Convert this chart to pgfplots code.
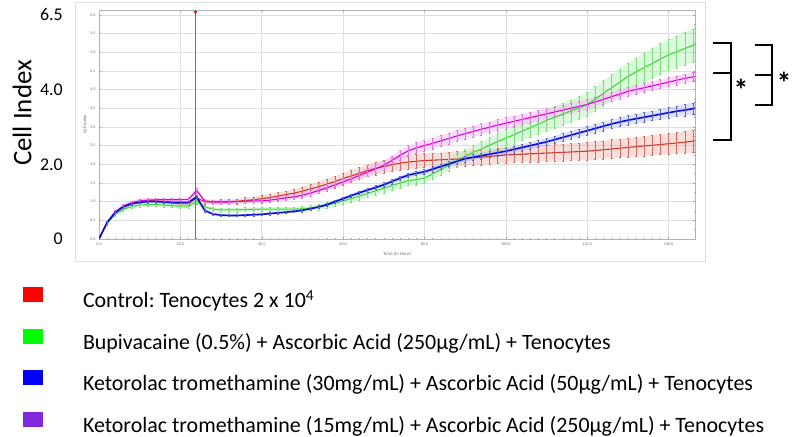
\documentclass[border=0pt]{standalone}
\usepackage{fontspec}
\setmainfont{Carlito}
\usepackage{pgfplots}
\pgfplotsset{compat=1.18}
\usepackage{pgfplotstable}
\usepgfplotslibrary{fillbetween}

\definecolor{cR}{RGB}{205,55,50}
\definecolor{cRe}{RGB}{215,105,95}
\definecolor{cRf}{RGB}{235,160,150}
\definecolor{cG}{RGB}{60,215,60}
\definecolor{cGe}{RGB}{120,225,120}
\definecolor{cGf}{RGB}{170,240,170}
\definecolor{cB}{RGB}{10,10,225}
\definecolor{cBe}{RGB}{90,100,210}
\definecolor{cBf}{RGB}{160,170,235}
\definecolor{cM}{RGB}{220,0,220}
\definecolor{cMe}{RGB}{230,110,230}
\definecolor{cMf}{RGB}{242,170,242}
\definecolor{cV}{RGB}{215,70,70}
\definecolor{lR}{RGB}{255,0,0}
\definecolor{lG}{RGB}{0,255,0}
\definecolor{lB}{RGB}{0,0,255}
\definecolor{lP}{RGB}{130,40,220}

% t: time (h); r/g/b/m: cell index of each group; *e: error
\pgfplotstableread{
t r re g ge b be m me
0 0.00 .02 0.00 .02 0.00 .02 0.00 .02
2 0.45 .04 0.42 .04 0.44 .03 0.45 .04
4 0.72 .05 0.66 .05 0.71 .03 0.72 .05
6 0.88 .05 0.80 .05 0.86 .03 0.88 .05
8 0.96 .06 0.87 .05 0.94 .03 0.97 .05
10 1.01 .06 0.91 .05 0.98 .03 1.02 .05
12 1.03 .06 0.92 .05 1.00 .03 1.04 .05
14 1.02 .06 0.92 .05 1.00 .03 1.05 .05
16 0.99 .06 0.91 .05 0.99 .03 1.05 .05
18 0.96 .06 0.89 .05 0.98 .03 1.05 .05
20 0.94 .06 0.88 .05 0.98 .03 1.05 .05
22 0.94 .06 0.88 .05 0.98 .03 1.06 .05
24 1.10 .07 1.00 .06 1.13 .04 1.30 .06
26 1.00 .06 0.86 .05 0.76 .03 1.02 .05
28 0.99 .06 0.80 .05 0.67 .03 0.99 .05
30 1.00 .06 0.78 .05 0.64 .03 0.99 .05
32 1.00 .07 0.78 .05 0.63 .03 0.99 .05
34 1.01 .07 0.78 .05 0.63 .03 1.00 .05
36 1.03 .08 0.79 .05 0.64 .03 1.01 .05
38 1.05 .08 0.79 .05 0.65 .03 1.02 .05
40 1.08 .09 0.80 .05 0.66 .03 1.02 .05
42 1.11 .09 0.80 .06 0.68 .03 1.04 .06
44 1.15 .10 0.80 .06 0.70 .03 1.07 .06
46 1.19 .10 0.80 .06 0.72 .03 1.10 .06
48 1.23 .11 0.80 .06 0.74 .03 1.13 .07
50 1.28 .12 0.81 .07 0.77 .04 1.17 .07
52 1.34 .12 0.83 .07 0.81 .04 1.23 .08
54 1.40 .13 0.86 .08 0.86 .04 1.30 .08
56 1.47 .14 0.90 .08 0.92 .04 1.37 .09
58 1.54 .14 0.96 .09 1.00 .04 1.45 .09
60 1.62 .15 1.02 .09 1.08 .05 1.53 .10
62 1.69 .15 1.08 .10 1.16 .05 1.61 .10
64 1.76 .16 1.15 .10 1.24 .05 1.70 .11
66 1.83 .16 1.22 .11 1.31 .05 1.79 .11
68 1.89 .17 1.29 .11 1.38 .05 1.88 .12
70 1.94 .17 1.36 .12 1.45 .06 1.97 .12
72 1.99 .18 1.43 .12 1.54 .06 2.10 .13
74 2.03 .18 1.50 .13 1.63 .06 2.24 .13
76 2.06 .18 1.56 .13 1.71 .06 2.36 .14
78 2.08 .19 1.59 .14 1.76 .06 2.44 .14
80 2.10 .19 1.63 .14 1.80 .07 2.50 .15
82 2.11 .19 1.74 .15 1.87 .07 2.56 .15
84 2.12 .19 1.86 .15 1.94 .07 2.63 .15
86 2.13 .20 1.98 .16 2.01 .07 2.69 .15
88 2.14 .20 2.10 .17 2.08 .07 2.76 .15
90 2.16 .20 2.22 .18 2.15 .08 2.82 .15
92 2.18 .20 2.32 .19 2.19 .08 2.88 .15
94 2.19 .20 2.41 .20 2.23 .08 2.94 .15
96 2.21 .20 2.51 .21 2.27 .08 2.99 .15
98 2.23 .21 2.61 .22 2.31 .09 3.05 .15
100 2.25 .21 2.70 .23 2.35 .09 3.10 .15
102 2.26 .21 2.79 .24 2.40 .09 3.15 .15
104 2.27 .21 2.89 .25 2.45 .09 3.20 .15
106 2.28 .22 2.98 .26 2.50 .10 3.25 .15
108 2.29 .22 3.08 .27 2.55 .10 3.30 .15
110 2.30 .22 3.17 .28 2.60 .10 3.35 .15
112 2.31 .22 3.26 .29 2.66 .10 3.40 .14
114 2.32 .23 3.34 .30 2.72 .11 3.45 .14
116 2.33 .23 3.43 .30 2.78 .11 3.50 .14
118 2.34 .23 3.51 .31 2.84 .11 3.55 .14
120 2.35 .24 3.60 .32 2.90 .12 3.60 .14
122 2.37 .24 3.75 .33 2.96 .12 3.67 .13
124 2.39 .24 3.90 .34 3.02 .12 3.74 .13
126 2.41 .25 4.05 .35 3.08 .12 3.81 .13
128 2.43 .25 4.20 .36 3.13 .12 3.88 .13
130 2.45 .25 4.35 .37 3.18 .13 3.95 .12
132 2.47 .26 4.47 .38 3.22 .13 4.00 .12
134 2.49 .26 4.59 .39 3.26 .13 4.05 .12
136 2.51 .27 4.70 .40 3.30 .13 4.10 .12
138 2.53 .27 4.82 .41 3.34 .14 4.15 .12
140 2.55 .28 4.93 .42 3.38 .14 4.20 .12
142 2.57 .28 5.01 .43 3.42 .14 4.25 .12
144 2.59 .29 5.10 .44 3.45 .15 4.30 .12
146 2.62 .30 5.18 .45 3.49 .15 4.34 .12
146.5 2.63 .30 5.20 .45 3.50 .15 4.35 .12
}\cidata

\begin{document}
\begin{tikzpicture}
\path (0,0) rectangle (792bp,435bp);

% screenshot frame
\draw[gray!25, line width=1bp] (75bp,174bp) rectangle (705bp,432bp);

\begin{axis}[
  at={(99bp,196bp)}, anchor=south west,
  width=596bp, height=229bp, scale only axis,
  xmin=0, xmax=146.5, ymin=0, ymax=6.13,
  xtick={0,20,...,140}, ytick={0,0.5,...,6},
  minor x tick num=9, minor y tick num=1,
  tick align=inside,
  major tick length=2.2bp, minor tick length=1.4bp,
  grid=major, major grid style={color=gray!25, line width=0.5pt},
  axis line style={gray!60},
  tick style={gray!75, line width=0.4pt},
  ticklabel style={font=\fontsize{4.2}{4.2}\selectfont, text=gray!90!black,
    /pgf/number format/fixed, /pgf/number format/fixed zerofill,
    /pgf/number format/precision=1, /pgf/number format/assume math mode=true},
  xlabel={Time (in Hour)}, ylabel={Cell Index},
  label style={font=\fontsize{4.8}{5}\selectfont, text=gray!90!black},
  xlabel style={yshift=0bp}, ylabel style={yshift=-3bp},
]
% vertical event marker
\addplot[cV, line width=1.3pt, mark=none, forget plot] coordinates {(23.7,0) (23.7,6.13)};
\addplot[only marks, mark=triangle*, mark size=1.6pt, mark options={rotate=180, fill=red, draw=red}, forget plot] coordinates {(23.7,6.07)};

% red
\addplot[name path=rU, draw=none, forget plot] table[x=t, y expr=\thisrow{r}+\thisrow{re}] {\cidata};
\addplot[name path=rL, draw=none, forget plot] table[x=t, y expr=\thisrow{r}-\thisrow{re}] {\cidata};
\addplot[fill=cRf, fill opacity=0.35, draw=none, forget plot] fill between[of=rU and rL];
% green
\addplot[name path=gU, draw=none, forget plot] table[x=t, y expr=\thisrow{g}+\thisrow{ge}] {\cidata};
\addplot[name path=gL, draw=none, forget plot] table[x=t, y expr=\thisrow{g}-\thisrow{ge}] {\cidata};
\addplot[fill=cGf, fill opacity=0.4, draw=none, forget plot] fill between[of=gU and gL];
% magenta
\addplot[name path=mU, draw=none, forget plot] table[x=t, y expr=\thisrow{m}+\thisrow{me}] {\cidata};
\addplot[name path=mL, draw=none, forget plot] table[x=t, y expr=\thisrow{m}-\thisrow{me}] {\cidata};
\addplot[fill=cMf, fill opacity=0.4, draw=none, forget plot] fill between[of=mU and mL];
% blue
\addplot[name path=bU, draw=none, forget plot] table[x=t, y expr=\thisrow{b}+\thisrow{be}] {\cidata};
\addplot[name path=bL, draw=none, forget plot] table[x=t, y expr=\thisrow{b}-\thisrow{be}] {\cidata};
\addplot[fill=cBf, fill opacity=0.35, draw=none, forget plot] fill between[of=bU and bL];

\addplot[cR, line width=1.1pt, mark=none,
  error bars/.cd, y dir=both, y explicit, error mark=-, error mark options={mark size=1pt, rotate=90, line width=0.3pt},
  error bar style={color=cRe, line width=0.45pt}]
  table[x=t, y=r, y error=re] {\cidata};
\addplot[cG, line width=1.1pt, mark=none,
  error bars/.cd, y dir=both, y explicit, error mark=-, error mark options={mark size=1pt, rotate=90, line width=0.3pt},
  error bar style={color=cGe, line width=0.45pt}]
  table[x=t, y=g, y error=ge] {\cidata};
\addplot[cM, line width=1.1pt, mark=none,
  error bars/.cd, y dir=both, y explicit, error mark=-, error mark options={mark size=1pt, rotate=90, line width=0.3pt},
  error bar style={color=cMe, line width=0.45pt}]
  table[x=t, y=m, y error=me] {\cidata};
\addplot[cB, line width=1.6pt, mark=none,
  error bars/.cd, y dir=both, y explicit, error mark=-, error mark options={mark size=1pt, rotate=90, line width=0.3pt},
  error bar style={color=cBe, line width=0.45pt}]
  table[x=t, y=b, y error=be] {\cidata};
\end{axis}

\begin{axis}[
  at={(99bp,196bp)}, anchor=south west,
  width=596bp, height=229bp, scale only axis,
  xmin=0, xmax=146.5, ymin=0, ymax=6.13,
  hide x axis, axis y line*=left, y axis line style={draw=none},
  ytick={0,2,4,6}, yticklabels={0,2.0,4.0,6.5},
  major tick length=0pt,
  yticklabel style={font=\fontsize{18}{18}\selectfont, anchor=east, inner sep=0pt, xshift=-36bp},
  ylabel={Cell Index},
  ylabel style={font=\fontsize{27}{27}\selectfont, at={(axis description cs:-0.129,0.55)}, anchor=center},
  legend style={at={(axis description cs:-0.1275,-0.2096)}, anchor=north west,
    draw=none, fill=none, inner sep=0pt, outer sep=0pt, row sep=16bp,
    font=\fontsize{22}{22}\selectfont,
    nodes={inner sep=0pt, text height=20bp, text depth=5bp}},
  legend cell align=left,
  legend image code/.code={\fill[#1] (0bp,-2bp) rectangle (20bp,13bp); \path[draw=none, fill=none] (0bp,0bp) rectangle (60bp,1bp);},
]
\addplot[draw=none, forget plot] table[x=t, y=r] {\cidata};
\addlegendimage{fill=lR, draw=none}
\addlegendentry{Control:\ Tenocytes 2 x 10\textsuperscript{4}}
\addlegendimage{fill=lG, draw=none}
\addlegendentry{Bupivacaine (0.5\%) + Ascorbic Acid (250µg/mL) + Tenocytes}
\addlegendimage{fill=lB, draw=none}
\addlegendentry{Ketorolac tromethamine (30mg/mL) + Ascorbic Acid (50µg/mL) + Tenocytes}
\addlegendimage{fill=lP, draw=none}
\addlegendentry{Ketorolac tromethamine (15mg/mL) + Ascorbic Acid (250µg/mL) + Tenocytes}
\end{axis}

% significance brackets
\begin{scope}[line width=1.7bp, black]
\draw (713bp,392bp) -- (731bp,392bp) -- (731bp,295bp) -- (713bp,295bp);
\draw (713bp,362bp) -- (731bp,362bp);
\draw (755bp,390bp) -- (772bp,390bp) -- (772bp,330bp) -- (755bp,330bp);
\draw (755bp,360bp) -- (772bp,360bp);
\end{scope}
\node[font=\bfseries\fontsize{30}{30}\selectfont, inner sep=0pt] at (741bp,345bp) {*};
\node[font=\bfseries\fontsize{30}{30}\selectfont, inner sep=0pt] at (784bp,352bp) {*};
\end{tikzpicture}
\end{document}
